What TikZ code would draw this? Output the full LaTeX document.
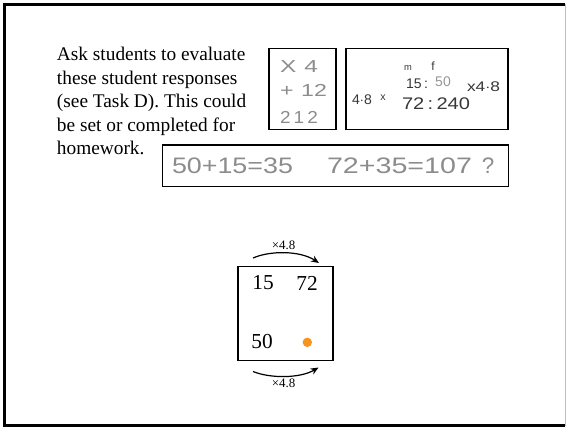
\documentclass[tikz,border=0pt]{standalone}
\usepackage{fontspec}
\usepackage{graphicx}
\setmainfont{Liberation Serif}
\newfontfamily\hand{Liberation Sans}
\usetikzlibrary{arrows.meta}
\definecolor{pencil}{RGB}{140,140,140}
\definecolor{ink}{RGB}{55,55,55}
\definecolor{faint}{RGB}{150,150,150}
\definecolor{dotorange}{RGB}{247,148,29}
\begin{document}
\begin{tikzpicture}[x=0.75pt,y=-0.75pt,
  prose/.style={anchor=base west, inner sep=0pt, font=\fontsize{14.5}{17}\selectfont},
  card/.style={draw=black, line width=1.1pt},
  handA/.style={inner sep=0pt, text=pencil, font=\hand\fontsize{13}{15}\selectfont},
  handB/.style={inner sep=0pt, text=ink, font=\hand\fontsize{10.5}{12}\selectfont},
  handC/.style={inner sep=0pt, text=pencil, font=\hand\fontsize{16.8}{19}\selectfont},
  num/.style={inner sep=0pt, font=\fontsize{16}{18}\selectfont},
  times/.style={inner sep=0pt, font=\fontsize{9.7}{11}\selectfont},
  flow/.style={line width=0.9pt, -{Stealth[length=6pt,width=5pt]}}
]
\useasboundingbox (0,0) rectangle (566,427);
% page frame
\draw[line width=2pt] (565,4.5) -- (4.5,4.5) -- (4.5,425.5) -- (565,425.5);
\draw[black!25, line width=0.7pt] (565,4.5) -- (565,425.5);

% prose
\node[prose] (t1) at (56.7,61) {Ask students to evaluate};
\node[prose] (t2) at (56.7,84.5) {these student responses};
\node[prose] (t3) at (56.7,108) {(see Task D). This could};
\node[prose] (t4) at (56.7,131.5) {be set or completed for};
\node[prose] (t5) at (56.7,154.5) {homework.};

% card 1
\draw[card] (269,48.3) rectangle (336,129.3);
\node[handA] (c1a) at (299,66.7) {\resizebox{28.5pt}{\height}{X\,\,4}};
\node[handA] (c1b) at (303.5,90.7) {\resizebox{35.25pt}{\height}{+\,\,12}};
\node[handA] (c1c) at (299,117) {\resizebox{28.5pt}{\height}{2\,1\,2}};

% card 2
\draw[card] (346,48.3) rectangle (508,129.3);
\node[handB, font=\hand\fontsize{7}{8}\selectfont] (c2m) at (408,68) {m};
\node[handB, font=\hand\fontsize{9}{10}\selectfont] (c2f) at (433,66) {f};
\node[handB] (c2a) at (417,83.5) {15\,:};
\node[handB, text=faint] (c2b) at (443,82) {50};
\node[handB] (c2c) at (483.5,87) {\resizebox{24.75pt}{\height}{x4$\cdot$8}};
\node[handB] (c2d) at (362,100) {4$\cdot$8};
\node[handB, font=\hand\fontsize{8}{9}\selectfont] (c2e) at (383,97.5) {x};
\node[handB, font=\hand\fontsize{12.6}{14}\selectfont] (c2g) at (436,103.5) {\resizebox{51pt}{\height}{72\,:\,240}};

% card 3
\draw[card] (162.5,145) rectangle (508.3,186.5);
\node[handC] (c3a) at (232.5,165.5) {\resizebox{90.75pt}{\height}{50+15=35}};
\node[handC] (c3b) at (399.5,165.5) {\resizebox{108.75pt}{\height}{72+35=107}};
\node[handC] (c3c) at (488,165.5) {?};

% ratio table
\draw[line width=1.1pt] (238,266.5) rectangle (333,360.5);
\node[num] (n15) at (263,283) {15};
\node[num] (n72) at (307,283) {72};
\node[num] (n50) at (262,342) {50};
\fill[dotorange] (307.3,342.3) circle (4.7);

\coordinate (ta) at (253,258);
\coordinate (tb) at (319,263);
\coordinate (ba) at (253,371.5);
\coordinate (bb) at (318.5,367.5);
\draw[flow] (ta) .. controls (270,250.5) and (300,250.5) .. (tb);
\draw[flow] (ba) .. controls (270,378.5) and (300,378.5) .. (bb);
\node[times] (lt) at (283.5,245) {×4.8};
\node[times] (lb) at (283.5,383.5) {×4.8};
\end{tikzpicture}
\end{document}
